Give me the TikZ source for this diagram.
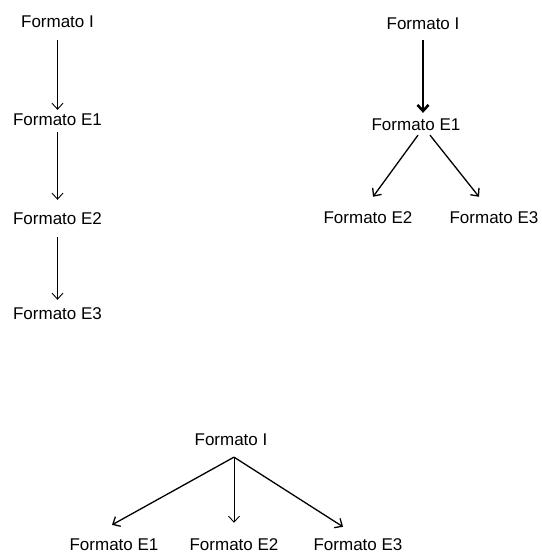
\documentclass[tikz,border=0pt]{standalone}
\usepackage{fontspec}
\setmainfont{Liberation Sans}
\usetikzlibrary{arrows.meta}
\begin{document}
\begin{tikzpicture}[x=1pt,y=1pt,
  lbl/.style={inner sep=0pt,font=\fontsize{17}{19}\selectfont},
  arr/.style={-{Straight Barb[length=6pt,width=11pt]},line width=1.3pt},
  thinarr/.style={arr,line width=0.9pt},
  thickarr/.style={arr,line width=2.6pt}]
\fill[white] (0,0) rectangle (541,-553);
% left column
\node[lbl] (L0) at (57.5,-22) {Formato I};
\node[lbl] (L1) at (57.5,-120) {Formato E1};
\node[lbl] (L2) at (57.5,-219) {Formato E2};
\node[lbl] (L3) at (57.5,-314) {Formato E3};
\draw[thinarr,shorten <=12pt,shorten >=4pt] (L0.south) -- (L1.north);
\draw[thinarr,shorten <=6pt,shorten >=13pt] (L1.south) -- (L2.north);
\draw[thinarr,shorten <=12pt,shorten >=8pt] (L2.south) -- (L3.north);
% right tree
\node[lbl] (R0) at (423,-24) {Formato I};
\node[lbl] (R1) at (416,-125) {Formato E1};
\node[lbl] (R2) at (368,-218) {Formato E2};
\node[lbl] (R3) at (494,-218) {Formato E3};
\draw[thickarr,shorten <=10pt,shorten >=6pt] (R0.south) -- (R0.south |- R1.north);
\draw[arr] ([xshift=2pt,yshift=-4pt]R1.south) -- ([xshift=5pt,yshift=15pt]R2.north);
\draw[arr] ([xshift=14pt,yshift=-4pt]R1.south) -- ([xshift=-15pt,yshift=15pt]R3.north);
% bottom tree
\node[lbl] (B0) at (231,-440) {Formato I};
\node[lbl] (B1) at (114,-545) {Formato E1};
\node[lbl] (B2) at (234,-545) {Formato E2};
\node[lbl] (B3) at (358,-545) {Formato E3};
\draw[arr] ([xshift=3pt,yshift=-11pt]B0.south) -- ([xshift=-2pt,yshift=14pt]B1.north);
\draw[thinarr] ([xshift=3pt,yshift=-11pt]B0.south) -- ([xshift=0pt,yshift=16pt]B2.north);
\draw[arr] ([xshift=3pt,yshift=-11pt]B0.south) -- ([xshift=-15pt,yshift=12pt]B3.north);
\end{tikzpicture}
\end{document}
